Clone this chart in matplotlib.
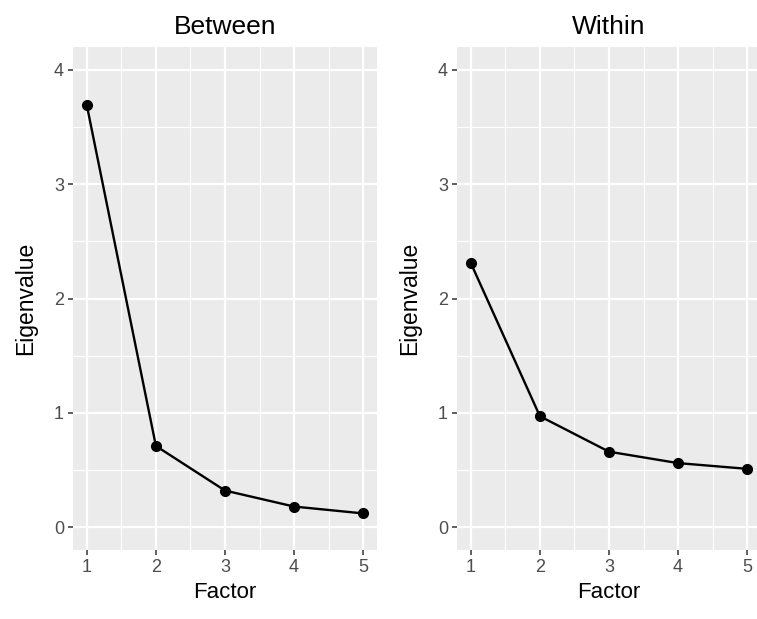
import numpy as np
import matplotlib
matplotlib.use("Agg")
import matplotlib.pyplot as plt
from matplotlib.ticker import MultipleLocator

plt.rcParams['font.family'] = ['Liberation Sans', 'DejaVu Sans']

# scree values
factors = [1, 2, 3, 4, 5]
between = [3.69, 0.71, 0.32, 0.18, 0.12]
within = [2.31, 0.97, 0.66, 0.56, 0.51]
titles = ["Between", "Within"]
yticks = [0, 1, 2, 3, 4]

fig = plt.figure(figsize=(7.57, 6.19), dpi=100)
ax1 = fig.add_axes([73 / 757, 69 / 619, 304 / 757, 503 / 619])
ax2 = fig.add_axes([457 / 757, 69 / 619, 304 / 757, 503 / 619])

for ax, vals, title in zip([ax1, ax2], [between, within], titles):
    ax.set_facecolor('#EBEBEB')
    for s in ax.spines.values():
        s.set_visible(False)
    ax.set_xlim(0.8, 5.2)
    ax.set_ylim(-0.2, 4.2)
    ax.set_xticks(factors)
    ax.set_yticks(yticks)
    ax.xaxis.set_minor_locator(MultipleLocator(0.5))
    ax.yaxis.set_minor_locator(MultipleLocator(0.5))
    ax.grid(which='major', color='white', lw=1.6)
    ax.grid(which='minor', color='white', lw=0.8)
    ax.set_axisbelow(True)
    ax.tick_params(which='major', length=3.5, width=1.1, color='#333333',
                   labelcolor='#4D4D4D', labelsize=13, pad=3)
    ax.tick_params(which='minor', length=0)
    ax.plot(factors, vals, color='black', lw=1.7, marker='o', ms=7, zorder=3)
    ax.set_title(title, fontsize=19, pad=9)
    ax.set_xlabel("Factor", fontsize=16, labelpad=4)
    ax.set_ylabel("Eigenvalue", fontsize=16.5, labelpad=12)

fig.savefig("out.png", dpi=100)
